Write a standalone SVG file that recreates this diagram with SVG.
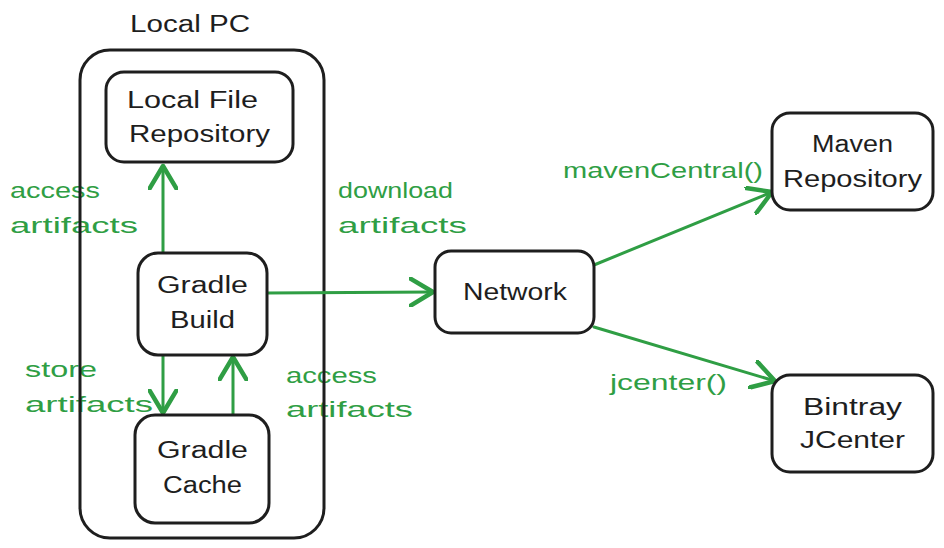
<svg xmlns="http://www.w3.org/2000/svg" width="944" height="548" viewBox="0 0 944 548">
<style>
.box{fill:#fff;stroke:#1e1e1e;stroke-width:3}
.cont{fill:none;stroke:#1e1e1e;stroke-width:3}
.nt{font-family:"Liberation Sans","DejaVu Sans",sans-serif;font-size:23px;fill:#1e1e1e}
.lb{font-family:"Liberation Sans","DejaVu Sans",sans-serif;font-size:22px;fill:#2f9e44}
.edge{fill:none;stroke:#2f9e44;stroke-width:3;stroke-linecap:round}
</style>
<defs>
<marker id="ah" markerUnits="userSpaceOnUse" markerWidth="30" markerHeight="30" refX="16" refY="10" orient="auto" viewBox="0 0 20 20">
<path d="M1,1 L16,10 L1,19" fill="none" stroke="#2f9e44" stroke-width="3" stroke-linecap="round" stroke-linejoin="round"/>
</marker>
</defs>
<rect width="944" height="548" fill="#fff"/>
<g id="labels">
<text class="lb" x="10" y="198" textLength="90" lengthAdjust="spacingAndGlyphs">access</text>
<text class="lb" x="10" y="233" textLength="128" lengthAdjust="spacingAndGlyphs">artifacts</text>
<text class="lb" x="338" y="198" textLength="115" lengthAdjust="spacingAndGlyphs">download</text>
<text class="lb" x="338" y="233" textLength="129" lengthAdjust="spacingAndGlyphs">artifacts</text>
<text class="lb" x="25" y="377" textLength="72" lengthAdjust="spacingAndGlyphs">store</text>
<text class="lb" x="25" y="412" textLength="128" lengthAdjust="spacingAndGlyphs">artifacts</text>
<text class="lb" x="286" y="383" textLength="91" lengthAdjust="spacingAndGlyphs">access</text>
<text class="lb" x="286" y="417" textLength="127" lengthAdjust="spacingAndGlyphs">artifacts</text>
<text class="lb" x="563" y="178" textLength="200" lengthAdjust="spacingAndGlyphs">mavenCentral()</text>
<text class="lb" x="610" y="390" textLength="117" lengthAdjust="spacingAndGlyphs">jcenter()</text>
</g>
<g id="local-pc">
<rect class="cont" x="80" y="50" width="244" height="488" rx="30"/>
<text class="nt" x="130" y="32" textLength="120" lengthAdjust="spacingAndGlyphs">Local PC</text>
</g>
<g id="connectors">
<path class="edge" d="M163,253 L163,166" marker-end="url(#ah)"/>
<path class="edge" d="M267,293 L433,292" marker-end="url(#ah)"/>
<path class="edge" d="M163,355 L163,413" marker-end="url(#ah)"/>
<path class="edge" d="M233,415 L233,357" marker-end="url(#ah)"/>
<path class="edge" d="M594,265 L772,192" marker-end="url(#ah)"/>
<path class="edge" d="M594,327 L775,381" marker-end="url(#ah)"/>
</g>
<g id="local-file-repo">
<rect class="box" x="106" y="72" width="187" height="90" rx="18"/>
<text class="nt" x="127" y="108" textLength="131" lengthAdjust="spacingAndGlyphs">Local File</text>
<text class="nt" x="129" y="142" textLength="141" lengthAdjust="spacingAndGlyphs">Repository</text>
</g>
<g id="gradle-build">
<rect class="box" x="138" y="253" width="129" height="102" rx="20"/>
<text class="nt" x="157" y="293" textLength="91" lengthAdjust="spacingAndGlyphs">Gradle</text>
<text class="nt" x="170" y="328" textLength="65" lengthAdjust="spacingAndGlyphs">Build</text>
</g>
<g id="gradle-cache">
<rect class="box" x="135" y="415" width="134" height="108" rx="20"/>
<text class="nt" x="157" y="458" textLength="91" lengthAdjust="spacingAndGlyphs">Gradle</text>
<text class="nt" x="163" y="493" textLength="79" lengthAdjust="spacingAndGlyphs">Cache</text>
</g>
<g id="network">
<rect class="box" x="435" y="251" width="159" height="82" rx="16"/>
<text class="nt" x="463" y="300" textLength="104" lengthAdjust="spacingAndGlyphs">Network</text>
</g>
<g id="maven">
<rect class="box" x="772" y="113" width="161" height="97" rx="18"/>
<text class="nt" x="812" y="152" textLength="81" lengthAdjust="spacingAndGlyphs">Maven</text>
<text class="nt" x="783" y="187" textLength="139" lengthAdjust="spacingAndGlyphs">Repository</text>
</g>
<g id="bintray">
<rect class="box" x="772" y="375" width="161" height="97" rx="18"/>
<text class="nt" x="803" y="415" textLength="99" lengthAdjust="spacingAndGlyphs">Bintray</text>
<text class="nt" x="800" y="448" textLength="105" lengthAdjust="spacingAndGlyphs">JCenter</text>
</g>
</svg>
